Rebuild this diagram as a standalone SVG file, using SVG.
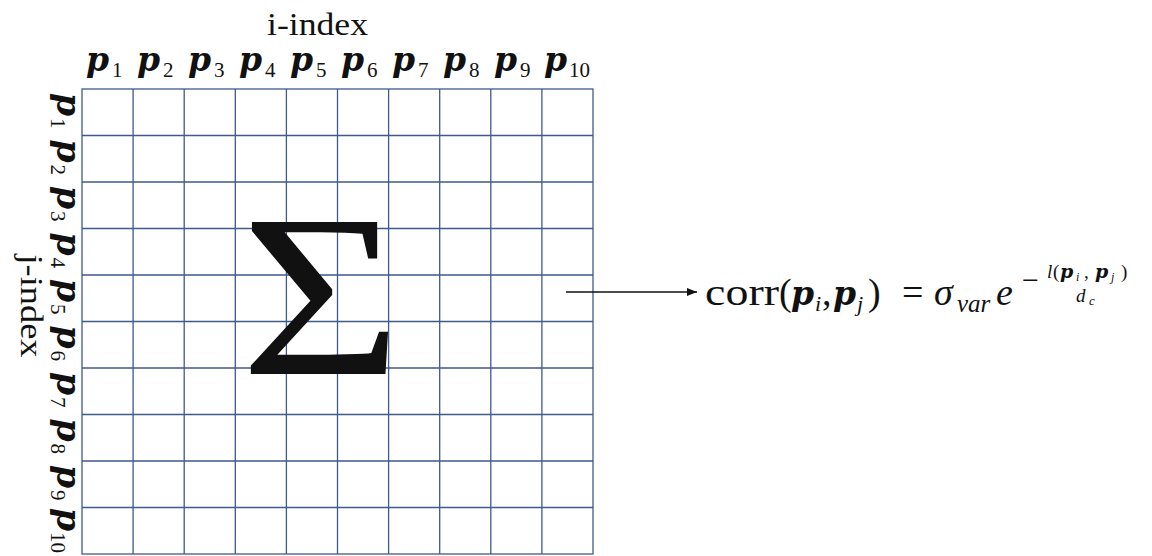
<svg xmlns="http://www.w3.org/2000/svg" width="1152" height="556" viewBox="0 0 1152 556">
<defs>
<style>
.t{font-family:"Liberation Serif","Times New Roman",serif;fill:#111}
.it{font-family:"Liberation Serif","Times New Roman",serif;font-style:italic;fill:#111}
.bp{font-family:"DejaVu Serif",serif;font-style:italic;font-weight:bold;fill:#111}
.g{stroke:#3f5a8c;stroke-width:1.3;fill:none}
.lbl{font-size:33px}
.sub{font-size:21px}
</style>
<marker id="ah" viewBox="0 0 10 8" refX="10" refY="4" markerWidth="10" markerHeight="8" markerUnits="userSpaceOnUse" orient="auto">
<path d="M0,0 L10,4 L0,8 z" fill="#111"/>
</marker>
</defs>
<rect width="1152" height="556" fill="#fff"/>

<g id="grid" class="g">
<rect x="82" y="89" width="511" height="465"/>
<path d="M133.1,89V554M184.2,89V554M235.3,89V554M286.4,89V554M337.5,89V554M388.6,89V554M439.7,89V554M490.8,89V554M541.9,89V554"/>
<path d="M82,135.5H593M82,182H593M82,228.5H593M82,275H593M82,321.5H593M82,368H593M82,414.5H593M82,461H593M82,507.5H593"/>
</g>

<g id="i-index-label">
<text class="t" x="317.5" y="35" font-size="31" text-anchor="middle" textLength="101" lengthAdjust="spacingAndGlyphs">i-index</text>
</g>

<g id="col-labels">
<text class="bp lbl" x="86" y="71">p</text><text class="t sub" x="112" y="77">1</text>
<text class="bp lbl" x="137" y="71">p</text><text class="t sub" x="163" y="77">2</text>
<text class="bp lbl" x="188" y="71">p</text><text class="t sub" x="214" y="77">3</text>
<text class="bp lbl" x="239" y="71">p</text><text class="t sub" x="265" y="77">4</text>
<text class="bp lbl" x="290" y="71">p</text><text class="t sub" x="316" y="77">5</text>
<text class="bp lbl" x="341" y="71">p</text><text class="t sub" x="367" y="77">6</text>
<text class="bp lbl" x="392" y="71">p</text><text class="t sub" x="418" y="77">7</text>
<text class="bp lbl" x="443" y="71">p</text><text class="t sub" x="469" y="77">8</text>
<text class="bp lbl" x="494" y="71">p</text><text class="t sub" x="520" y="77">9</text>
<text class="bp lbl" x="544" y="71">p</text><text class="t sub" x="569" y="77">10</text>
</g>

<g id="j-index-label">
<text class="t" transform="translate(21,306) rotate(90)" x="0" y="0" font-size="31" text-anchor="middle" textLength="103" lengthAdjust="spacingAndGlyphs">j-index</text>
</g>

<g id="row-labels">
<g transform="translate(57,93) rotate(90)"><text class="bp lbl" x="0" y="0">p</text><text class="t sub" x="25" y="6">1</text></g>
<g transform="translate(57,139.5) rotate(90)"><text class="bp lbl" x="0" y="0">p</text><text class="t sub" x="25" y="6">2</text></g>
<g transform="translate(57,186) rotate(90)"><text class="bp lbl" x="0" y="0">p</text><text class="t sub" x="25" y="6">3</text></g>
<g transform="translate(57,232.5) rotate(90)"><text class="bp lbl" x="0" y="0">p</text><text class="t sub" x="25" y="6">4</text></g>
<g transform="translate(57,279) rotate(90)"><text class="bp lbl" x="0" y="0">p</text><text class="t sub" x="25" y="6">5</text></g>
<g transform="translate(57,325.5) rotate(90)"><text class="bp lbl" x="0" y="0">p</text><text class="t sub" x="25" y="6">6</text></g>
<g transform="translate(57,372) rotate(90)"><text class="bp lbl" x="0" y="0">p</text><text class="t sub" x="25" y="6">7</text></g>
<g transform="translate(57,418.5) rotate(90)"><text class="bp lbl" x="0" y="0">p</text><text class="t sub" x="25" y="6">8</text></g>
<g transform="translate(57,465) rotate(90)"><text class="bp lbl" x="0" y="0">p</text><text class="t sub" x="25" y="6">9</text></g>
<g transform="translate(57,508) rotate(90)"><text class="bp lbl" x="0" y="0">p</text><text class="t sub" x="24" y="6" font-size="19">10</text></g>
</g>

<g id="sigma">
<text class="t" transform="translate(240,374) scale(1.2,1)" x="0" y="0" font-size="232">Σ</text>
</g>

<g id="connectors">
<line x1="566" y1="292" x2="697" y2="292" stroke="#111" stroke-width="1.3" marker-end="url(#ah)"/>
</g>

<g id="formula">
<text class="t" x="705" y="305" font-size="38" textLength="74" lengthAdjust="spacingAndGlyphs">corr</text>
<text class="t" x="779" y="305" font-size="38">(</text>
<text class="bp" x="791" y="305" font-size="33">p</text>
<text class="it" x="815" y="311" font-size="22">i</text>
<text class="t" x="822" y="305" font-size="38">,</text>
<text class="bp" x="833" y="305" font-size="33">p</text>
<text class="it" x="857" y="311" font-size="22">j</text>
<text class="t" x="868" y="305" font-size="38">)</text>
<text class="t" x="902" y="305" font-size="38">=</text>
<text class="it" x="934" y="305" font-size="38">σ</text>
<text class="it" x="957" y="312" font-size="25">var</text>
<text class="it" x="996" y="305" font-size="38">e</text>
<text class="t" x="1022" y="290" font-size="30">−</text>
<text class="it" x="1047" y="278" font-size="19">l</text>
<text class="t" x="1053" y="278" font-size="19">(</text>
<text class="bp" x="1060" y="278" font-size="19">p</text>
<text class="it" x="1076" y="281" font-size="12">i</text>
<text class="t" x="1084" y="278" font-size="19">,</text>
<text class="bp" x="1095" y="278" font-size="19">p</text>
<text class="it" x="1111" y="281" font-size="12">j</text>
<text class="t" x="1121" y="278" font-size="19">)</text>
<text class="it" x="1076" y="302" font-size="19">d</text>
<text class="it" x="1089" y="305" font-size="13">c</text>
</g>
</svg>
